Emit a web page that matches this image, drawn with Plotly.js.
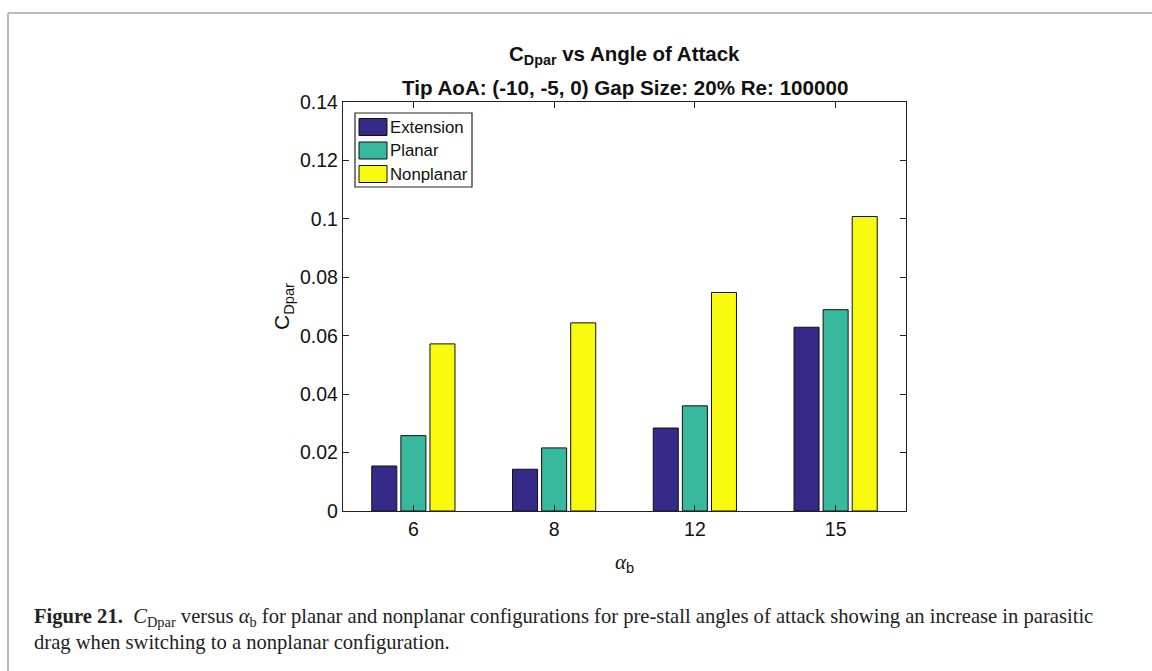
<!DOCTYPE html>
<html>
<head>
<meta charset="utf-8">
<script src="https://cdn.plot.ly/plotly-3.0.1.min.js"></script>
<style>
html,body{margin:0;padding:0;background:#fff;}
#chart{width:1152px;height:671px;}
</style>
</head>
<body>
<div id="chart"></div>
<script>
const categories = ['6', '8', '12', '15'];
const extension = [0.0154, 0.0143, 0.0284, 0.0629];
const planar = [0.0258, 0.0216, 0.0360, 0.0689];
const nonplanar = [0.0572, 0.0644, 0.0748, 0.1008];
const seriesNames = ['Extension', 'Planar', 'Nonplanar'];
const yTicks = [0, 0.02, 0.04, 0.06, 0.08, 0.1, 0.12, 0.14];
const yTickLabels = ['0', '0.02', '0.04', '0.06', '0.08', '0.1', '0.12', '0.14'];

const colors = ['#352a87', '#38b99e', '#f9fb0e'];
const sans = 'Liberation Sans, Arial, sans-serif';
const serif = 'Liberation Serif, Times New Roman, serif';

const traces = [extension, planar, nonplanar].map((vals, i) => ({
  type: 'bar',
  name: seriesNames[i],
  x: categories,
  y: vals,
  marker: {color: colors[i], line: {color: '#111', width: 1}}
}));

// plot-area geometry (pixels) used to place figure-level texts
const L = 343, T = 102, PW = 563, PH = 409;
const px = x => (x - L) / PW;
const py = y => (T + PH - y) / PH;

const annotations = [
  {xref: 'paper', yref: 'paper', x: 0.5, y: py(55), xanchor: 'center', yanchor: 'middle',
   text: '<b>C<sub>Dpar</sub> vs Angle of Attack</b>', showarrow: false,
   font: {family: sans, size: 20.5, color: '#111'}},
  {xref: 'paper', yref: 'paper', x: 0.5, y: py(87), xanchor: 'center', yanchor: 'middle',
   text: '<b>Tip AoA: (-10, -5, 0) Gap Size: 20% Re: 100000</b>', showarrow: false,
   font: {family: sans, size: 20.6, color: '#111'}},
  {xref: 'paper', yref: 'paper', x: px(624), y: py(563), xanchor: 'center', yanchor: 'middle',
   text: '<span style="font-family:' + serif + '"><i>α</i></span><sub>b</sub>', showarrow: false,
   font: {family: sans, size: 21, color: '#111'}},
  {xref: 'paper', yref: 'paper', x: px(32), y: py(617), xanchor: 'left', yanchor: 'middle', align: 'left',
   text: '<b>Figure 21.</b>  <i>C</i><sub>Dpar</sub> versus <i>α</i><sub>b</sub> for planar and nonplanar configurations for pre-stall angles of attack showing an increase in parasitic',
   showarrow: false, font: {family: serif, size: 20.6, color: '#222'}},
  {xref: 'paper', yref: 'paper', x: px(32), y: py(642), xanchor: 'left', yanchor: 'middle', align: 'left',
   text: 'drag when switching to a nonplanar configuration.',
   showarrow: false, font: {family: serif, size: 20.6, color: '#222'}}
];

const shapes = [
  {type: 'line', xref: 'paper', yref: 'paper', x0: px(8), x1: px(1152),
   y0: py(13), y1: py(13), line: {color: '#bbb', width: 2}},
  {type: 'line', xref: 'paper', yref: 'paper', x0: px(8), x1: px(8),
   y0: py(13), y1: py(671), line: {color: '#bbb', width: 2}},
  // legend box (MATLAB style)
  {type: 'rect', xref: 'paper', yref: 'paper', x0: px(355), x1: px(472), y0: py(113), y1: py(187),
   fillcolor: '#fff', line: {color: '#262626', width: 1.2}, layer: 'above'}
];

// legend entries: wide swatch + label
seriesNames.forEach((name, i) => {
  const cy = 127 + i * 23.5;
  shapes.push({type: 'rect', xref: 'paper', yref: 'paper', x0: px(359), x1: px(387),
    y0: py(cy - 8.5), y1: py(cy + 8.5), fillcolor: colors[i],
    line: {color: '#111', width: 1}, layer: 'above'});
  annotations.push({xref: 'paper', yref: 'paper', x: px(388), y: py(cy), xanchor: 'left', yanchor: 'middle',
    text: name, showarrow: false, font: {family: sans, size: 16.8, color: '#111'}});
});

const layout = {
  width: 1152, height: 671,
  margin: {l: L, r: 1152 - L - PW, t: T, b: 671 - T - PH, pad: 0},
  paper_bgcolor: '#fff', plot_bgcolor: '#fff',
  barmode: 'group', bargap: 0.38, bargroupgap: 0.14,
  showlegend: false,
  font: {family: sans, color: '#111'},
  xaxis: {
    type: 'category', categoryarray: categories, range: [-0.5, 3.5],
    showline: true, linecolor: '#222', linewidth: 1.2, mirror: 'ticks',
    ticks: 'inside', ticklen: 6, tickcolor: '#222',
    tickfont: {family: sans, size: 19.5, color: '#111'},
    showgrid: false, zeroline: false, fixedrange: true
  },
  yaxis: {
    range: [0, 0.14], tickvals: yTicks, ticktext: yTickLabels,
    showline: true, linecolor: '#222', linewidth: 1.2, mirror: 'ticks',
    ticks: 'inside', ticklen: 6, tickcolor: '#222',
    tickfont: {family: sans, size: 19.5, color: '#111'},
    showgrid: false, zeroline: false, fixedrange: true,
    title: {text: 'C<sub>Dpar</sub>', font: {family: sans, size: 21, color: '#111'}, standoff: 4}
  },
  annotations: annotations,
  shapes: shapes
};

Plotly.newPlot('chart', traces, layout, {staticPlot: true, displayModeBar: false});
</script>
</body>
</html>
